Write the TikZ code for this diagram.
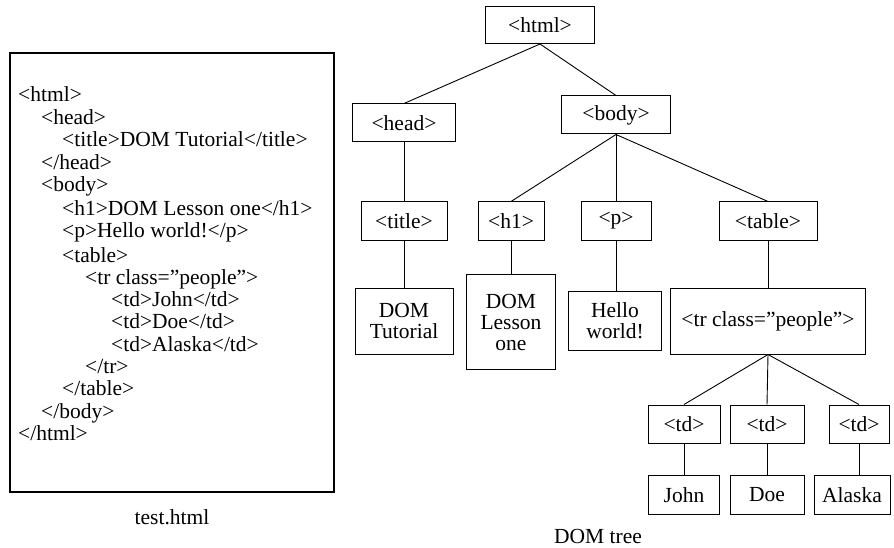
\documentclass[tikz,border=0pt]{standalone}
\usepackage{fontspec}
\setmainfont{Liberation Serif}
\begin{document}
\begin{tikzpicture}[x=1pt,y=-1pt,every node/.style={font=\fontsize{21.5}{21}\selectfont},
  tag/.style={draw,line width=1pt,inner sep=0pt,minimum height=38,align=center},
  edge/.style={line width=0.9pt}]
\useasboundingbox (0,0) rectangle (894,548);
\draw[line width=1.2pt] (10,53) rectangle (334,492);
\foreach \x/\y/\t [count=\k] in {18/102/{<html>},41/125/{<head>},62/147/{<title>DOM Tutorial</title>},41/170/{</head>},41/192/{<body>},62/215/{<h1>DOM Lesson one</h1>},62/237/{<p>Hello world!</p>},62/262/{<table>},85/284/{<tr class=”people”>},111/306/{<td>John</td>},111/328/{<td>Doe</td>},111/351/{<td>Alaska</td>},85/373/{</tr>},62/395/{</table>},41/418/{</body>},18/440/{</html>}} {\node[anchor=base west,inner sep=0pt] (line\k) at (\x,\y) {\t};}
\node (srccap) at (172,517) {test.html};
\node[tag,minimum width=109,minimum height=37] (html) at (540,25) {<html>};
\node[tag,minimum width=103] (head) at (404,123) {<head>};
\node[tag,minimum width=109] (body) at (616,115) {<body>};
\node[tag,minimum width=86] (title) at (404,221) {<title>};
\node[tag,minimum width=66] (h1) at (511,221) {<h1>};
\node[tag,minimum width=70] (p) at (616,221) {<p>};
\node[tag,minimum width=98] (table) at (768,221) {<table>};
\node[tag,minimum width=98,minimum height=66] (tut) at (404,321) {DOM\\Tutorial};
\node[tag,minimum width=89,minimum height=95] (lesson) at (511,322) {DOM\\Lesson\\one};
\node[tag,minimum width=93,minimum height=59] (hello) at (615,321) {Hello\\world!};
\node[tag,minimum width=195,minimum height=66] (tr) at (768,321) {<tr class=”people”>};
\node[tag,minimum width=72] (td1) at (684,424) {<td>};
\node[tag,minimum width=74] (td2) at (767,424) {<td>};
\node[tag,minimum width=60] (td3) at (859,424) {<td>};
\node[tag,minimum width=71,minimum height=39] (john) at (684,495) {John};
\node[tag,minimum width=74,minimum height=39] (doe) at (767,495) {Doe};
\node[tag,minimum width=76,minimum height=39] (alaska) at (852,495) {Alaska};
\node (treecap) at (598,536) {DOM tree};
\draw[edge] (html.south) -- (head.north);
\draw[edge] (html.south) -- (body.north);
\draw[edge] (head) -- (title);
\draw[edge] (title) -- (tut);
\draw[edge] (body.south) -- (h1.north);
\draw[edge] (body.south) -- (p.north);
\draw[edge] (body.south) -- (table.north);
\draw[edge] (h1) -- (lesson);
\draw[edge] (p.south) -- (p.south |- hello.north);
\draw[edge] (table) -- (tr);
\draw[edge] (tr.south) -- (td1.north);
\draw[edge] (tr.south) -- (td2.north);
\draw[edge] (tr.south) -- (td3.north);
\draw[edge] (td1) -- (john);
\draw[edge] (td2) -- (doe);
\draw[edge] (td3.south) -- (td3.south |- alaska.north);
\end{tikzpicture}
\end{document}
